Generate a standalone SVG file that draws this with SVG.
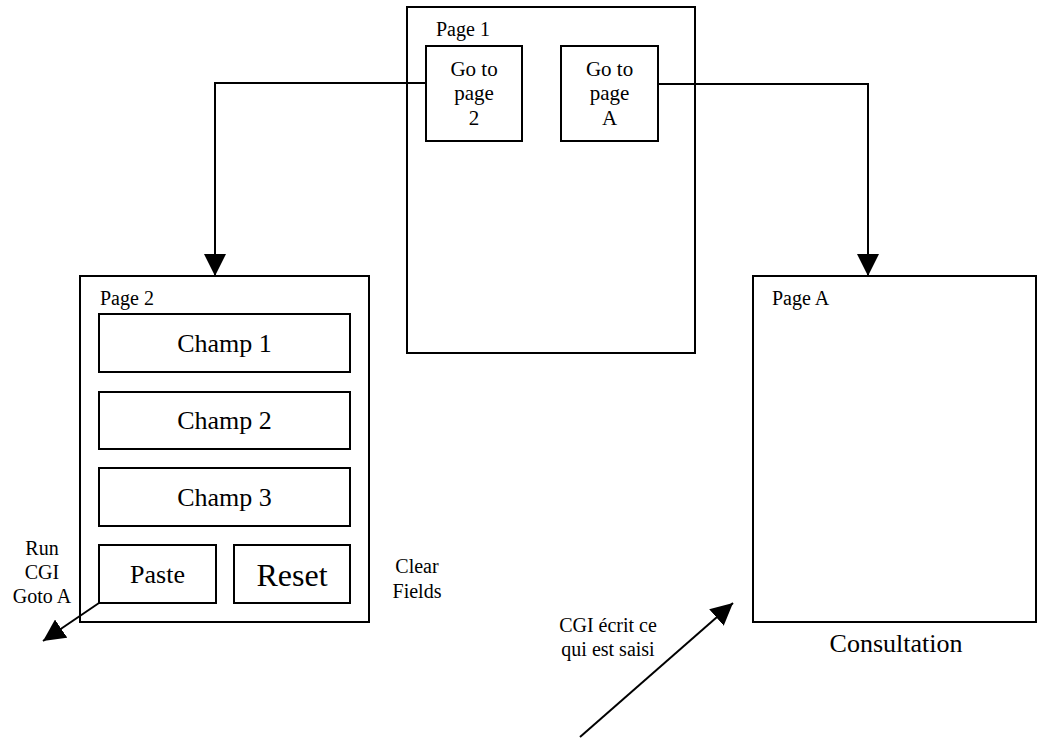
<svg xmlns="http://www.w3.org/2000/svg" width="1039" height="740" viewBox="0 0 1039 740">
<defs>
<style>
.box{fill:#fff;stroke:#000;stroke-width:2}
.ln{fill:none;stroke:#000;stroke-width:2}
.t{font-family:"Liberation Serif","Times New Roman",serif;fill:#000}
</style>
<marker id="ah" markerUnits="userSpaceOnUse" markerWidth="22" markerHeight="22" viewBox="0 0 20 20" refX="20" refY="10" orient="auto">
<path d="M0,0 L20,10 L0,20 z" fill="#000"/>
</marker>
</defs>
<rect width="1039" height="740" fill="#fff"/>
<g id="page1">
<rect class="box" x="407" y="7" width="288" height="346"/>
<text class="t" x="436" y="36" font-size="20">Page 1</text>
</g>
<g id="goto2">
<rect class="box" x="426" y="46" width="96" height="95"/>
<text class="t" font-size="21" text-anchor="middle"><tspan x="474" y="76">Go to</tspan><tspan x="474" y="100">page</tspan><tspan x="474" y="125">2</tspan></text>
</g>
<g id="gotoA">
<rect class="box" x="561" y="46" width="97" height="95"/>
<text class="t" font-size="21" text-anchor="middle"><tspan x="609.5" y="76">Go to</tspan><tspan x="609.5" y="100">page</tspan><tspan x="609.5" y="125">A</tspan></text>
</g>
<g id="page2">
<rect class="box" x="80" y="276" width="289" height="346"/>
<text class="t" x="100" y="305" font-size="20">Page 2</text>
</g>
<g id="champ1">
<rect class="box" x="99" y="314" width="251" height="58"/>
<text class="t" x="224.5" y="352" font-size="26" text-anchor="middle">Champ 1</text>
</g>
<g id="champ2">
<rect class="box" x="99" y="392" width="251" height="57"/>
<text class="t" x="224.5" y="429" font-size="26" text-anchor="middle">Champ 2</text>
</g>
<g id="champ3">
<rect class="box" x="99" y="468" width="251" height="58"/>
<text class="t" x="224.5" y="506" font-size="26" text-anchor="middle">Champ 3</text>
</g>
<g id="paste">
<rect class="box" x="99" y="545" width="117" height="58"/>
<text class="t" x="157.5" y="583" font-size="26" text-anchor="middle">Paste</text>
</g>
<g id="reset">
<rect class="box" x="234" y="545" width="116" height="58"/>
<text class="t" x="292" y="586" font-size="32" text-anchor="middle">Reset</text>
</g>
<g id="pageA">
<rect class="box" x="753" y="276" width="283" height="346"/>
<text class="t" x="772" y="305" font-size="20">Page A</text>
<text class="t" x="896" y="652" font-size="26" text-anchor="middle">Consultation</text>
</g>
<g id="labels">
<text class="t" font-size="20" text-anchor="middle"><tspan x="42" y="555">Run</tspan><tspan x="42" y="579">CGI</tspan><tspan x="42" y="603">Goto A</tspan></text>
<text class="t" font-size="20" text-anchor="middle"><tspan x="417" y="573">Clear</tspan><tspan x="417" y="598">Fields</tspan></text>
<text class="t" font-size="20" text-anchor="middle"><tspan x="608" y="632">CGI écrit ce</tspan><tspan x="608" y="656">qui est saisi</tspan></text>
</g>
<g id="connectors">
<path class="ln" d="M426,83 H215 V276" marker-end="url(#ah)"/>
<path class="ln" d="M658,84 H868 V276" marker-end="url(#ah)"/>
<path class="ln" d="M99,603 L43,641" marker-end="url(#ah)"/>
<path class="ln" d="M580,737 L733,603" marker-end="url(#ah)"/>
</g>
</svg>
